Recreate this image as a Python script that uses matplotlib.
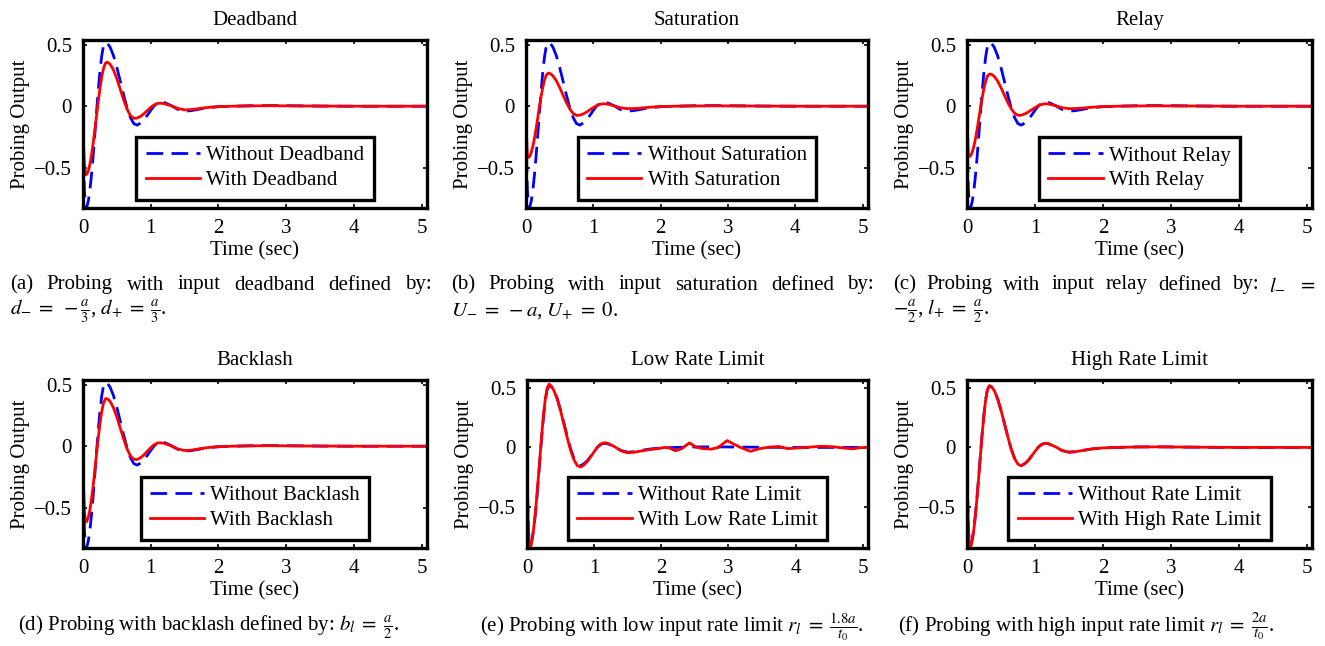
import matplotlib
matplotlib.use("Agg")
import matplotlib.pyplot as plt

plt.rcParams['font.family'] = ['Liberation Serif', 'DejaVu Serif']
plt.rcParams['mathtext.fontset'] = 'stix'

W, H = 1325, 646

# common time grid (sec)
t = [0, 0.02, 0.04, 0.06, 0.08, 0.1, 0.125, 0.15, 0.175, 0.2, 0.225, 0.25, 0.275, 0.3,
     0.33, 0.36, 0.4, 0.45, 0.5, 0.55, 0.6, 0.65, 0.7, 0.75, 0.8, 0.85, 0.9, 0.95, 1.0,
     1.05, 1.1, 1.15, 1.2, 1.3, 1.4, 1.5, 1.6, 1.7, 1.8, 1.9, 2.0, 2.2, 2.5, 2.8, 3.2,
     3.6, 4.0, 4.5, 5.08]

# probing output without any input nonlinearity (blue dashed)
without = [-0.2, -0.68, -0.84, -0.814, -0.768, -0.692, -0.563, -0.405, -0.228, -0.046,
           0.128, 0.282, 0.404, 0.486, 0.52, 0.513, 0.482, 0.413, 0.316, 0.205, 0.092,
           -0.012, -0.092, -0.142, -0.154, -0.137, -0.111, -0.074, -0.034, 0.002, 0.026,
           0.035, 0.031, 0.006, -0.026, -0.04, -0.036, -0.026, -0.016, -0.009, -0.004,
           0.0, 0.004, 0.005, 0.003, 0.001, 0.0, 0.0, 0.0]

deadband = [-0.18, -0.48, -0.56, -0.551, -0.523, -0.478, -0.4, -0.302, -0.192, -0.077,
            0.038, 0.143, 0.234, 0.302, 0.351, 0.359, 0.343, 0.296, 0.224, 0.139, 0.052,
            -0.023, -0.076, -0.099, -0.096, -0.083, -0.061, -0.035, -0.009, 0.011, 0.023,
            0.025, 0.021, 0.004, -0.018, -0.03, -0.027, -0.02, -0.013, -0.007, -0.003,
            0.0, 0.003, 0.004, 0.002, 0.001, 0.0, 0.0, 0.0]

saturation = [-0.13, -0.4, -0.418, -0.403, -0.374, -0.331, -0.263, -0.182, -0.093, -0.003,
              0.082, 0.156, 0.214, 0.253, 0.27, 0.266, 0.248, 0.208, 0.153, 0.091, 0.03,
              -0.022, -0.059, -0.075, -0.073, -0.063, -0.048, -0.029, -0.011, 0.005, 0.016,
              0.02, 0.018, 0.005, -0.012, -0.02, -0.019, -0.015, -0.01, -0.006, -0.003,
              0.0, 0.002, 0.003, 0.002, 0.001, 0.0, 0.0, 0.0]

relay = [-0.13, -0.39, -0.41, -0.398, -0.37, -0.33, -0.265, -0.186, -0.098, -0.009,
         0.075, 0.148, 0.205, 0.245, 0.262, 0.26, 0.244, 0.206, 0.152, 0.091, 0.031,
         -0.02, -0.057, -0.074, -0.073, -0.063, -0.048, -0.03, -0.012, 0.004, 0.015,
         0.02, 0.018, 0.005, -0.012, -0.02, -0.019, -0.015, -0.01, -0.006, -0.003,
         0.0, 0.002, 0.003, 0.002, 0.001, 0.0, 0.0, 0.0]

backlash = [-0.2, -0.53, -0.62, -0.609, -0.577, -0.524, -0.433, -0.321, -0.194, -0.062,
            0.066, 0.182, 0.277, 0.347, 0.387, 0.387, 0.366, 0.313, 0.238, 0.149, 0.059,
            -0.02, -0.078, -0.107, -0.108, -0.094, -0.07, -0.041, -0.012, 0.012, 0.026,
            0.028, 0.023, 0.004, -0.022, -0.035, -0.032, -0.023, -0.014, -0.008, -0.004,
            0.0, 0.003, 0.004, 0.002, 0.001, 0.0, 0.0, 0.0]

high_rate = [-0.18, -0.7, -0.855, -0.83, -0.78, -0.7, -0.57, -0.41, -0.232, -0.05,
             0.125, 0.28, 0.404, 0.488, 0.522, 0.514, 0.482, 0.413, 0.316, 0.205, 0.092,
             -0.012, -0.092, -0.142, -0.154, -0.137, -0.111, -0.074, -0.034, 0.002, 0.026,
             0.035, 0.031, 0.006, -0.026, -0.04, -0.036, -0.026, -0.016, -0.009, -0.004,
             0.0, 0.004, 0.005, 0.003, 0.001, 0.0, 0.0, 0.0]

# low rate limit has extra wiggles late on, own time grid
t_low = [0, 0.02, 0.04, 0.06, 0.08, 0.1, 0.125, 0.15, 0.175, 0.2, 0.225, 0.25, 0.275, 0.3,
         0.33, 0.36, 0.4, 0.45, 0.5, 0.55, 0.6, 0.65, 0.7, 0.75, 0.8, 0.85, 0.9, 0.95, 1.0,
         1.05, 1.1, 1.15, 1.2, 1.3, 1.4, 1.5, 1.6, 1.7, 1.8, 1.95, 2.05, 2.12, 2.21, 2.3,
         2.42, 2.52, 2.62, 2.75, 2.85, 2.98, 3.08, 3.18, 3.33, 3.45, 3.6, 3.75, 3.88, 4.0,
         4.2, 4.38, 4.55, 4.7, 4.86, 4.95, 5.08]
low_rate = [-0.17, -0.72, -0.86, -0.83, -0.76, -0.68, -0.55, -0.39, -0.21, -0.03,
            0.145, 0.3, 0.42, 0.5, 0.535, 0.52, 0.482, 0.41, 0.31, 0.195, 0.08,
            -0.025, -0.105, -0.155, -0.165, -0.148, -0.118, -0.078, -0.036, 0.002, 0.03,
            0.04, 0.036, 0.008, -0.028, -0.045, -0.04, -0.03, -0.02, -0.01, 0.0, -0.005,
            -0.028, -0.012, 0.038, 0.002, -0.01, -0.014, 0.0, 0.058, 0.028, 0.0, -0.033,
            -0.012, 0.002, 0.008, -0.01, -0.006, 0.002, 0.01, 0.006, -0.004, -0.012,
            -0.002, 0.0]

titles = ["Deadband", "Saturation", "Relay", "Backlash", "Low Rate Limit", "High Rate Limit"]
labels_without = ["Without Deadband", "Without Saturation", "Without Relay",
                  "Without Backlash", "Without Rate Limit", "Without Rate Limit"]
labels_with = ["With Deadband", "With Saturation", "With Relay",
               "With Backlash", "With Low Rate Limit", "With High Rate Limit"]
series_t = [t, t, t, t, t_low, t]
series_with = [deadband, saturation, relay, backlash, low_rate, high_rate]
ylims = [(-0.83, 0.54), (-0.83, 0.54), (-0.83, 0.54), (-0.83, 0.54), (-0.85, 0.57), (-0.85, 0.57)]

# axes boxes in pixels: left, right, top, bottom
boxes = [(83, 427, 40, 208), (526, 868, 40, 208), (967, 1312, 40, 208),
         (83, 427, 380, 548), (527, 868, 380, 548), (967, 1312, 380, 548)]

fig = plt.figure(figsize=(W / 100, H / 100), dpi=100)

for i in range(6):
    l, r, tp, b = boxes[i]
    ax = fig.add_axes([l / W, 1 - b / H, (r - l) / W, (b - tp) / H])
    ax.plot(t, without, color='blue', lw=2.0, ls='--', dashes=(6, 3), label=labels_without[i])
    ax.plot(series_t[i], series_with[i], color='red', lw=2.0, label=labels_with[i])
    ax.set_xlim(0, 5.08)
    ax.set_ylim(*ylims[i])
    ax.set_xticks([0, 1, 2, 3, 4, 5])
    ax.set_yticks([-0.5, 0, 0.5])
    ax.set_yticklabels(['\u22120.5', '0', '0.5'])
    ax.tick_params(direction='in', top=True, right=True, length=3, width=1.2,
                   labelsize=15, pad=8)
    for s in ax.spines.values():
        s.set_linewidth(2.4)
    ax.set_title(titles[i], fontsize=15, pad=11)
    ax.set_xlabel("Time (sec)", fontsize=15, labelpad=2)
    ax.set_ylabel("Probing Output", fontsize=15, labelpad=3)
    leg = ax.legend(loc='lower center', fontsize=15, handlelength=2.6, handletextpad=0.3,
                    borderpad=0.45, labelspacing=0.25, fancybox=False, framealpha=1,
                    borderaxespad=0.4, edgecolor='black')
    leg.get_frame().set_linewidth(2.4)

renderer = fig.canvas.get_renderer()
CAP = 15


def justified(words, x0, x1, y, size=CAP):
    # spread words over x0..x1 (pixels) like a justified LaTeX caption line
    texts = [fig.text(0, 1 - y / H, w, fontsize=size, va='center', ha='left') for w in words]
    widths = [tx.get_window_extent(renderer).width for tx in texts]
    gap = (x1 - x0 - sum(widths)) / (len(words) - 1)
    x = x0
    for tx, w in zip(texts, widths):
        tx.set_x(x / W)
        x += w + gap


justified(["(a)", "Probing", "with", "input", "deadband", "defined", "by:"], 10, 432, 285)
fig.text(10 / W, 1 - 311 / H, r"$d_{-}\;=\;-\frac{a}{3}$, $d_{+}\;=\;\frac{a}{3}$.",
         fontsize=CAP, va='center')
justified(["(b)", "Probing", "with", "input", "saturation", "defined", "by:"], 451, 874, 285)
fig.text(451 / W, 1 - 311 / H, r"$U_{-}\;=\;-a$, $U_{+}\;=\;0$.", fontsize=CAP,
         va='center')
justified(["(c)", "Probing", "with", "input", "relay", "defined", "by:", r"$l_{-}$", r"$=$"],
          893, 1315, 285)
fig.text(893 / W, 1 - 311 / H, r"$-\frac{a}{2}$, $l_{+}\;=\;\frac{a}{2}$.", fontsize=CAP,
         va='center')

fig.text(18 / W, 1 - 627 / H,
         r"(d) Probing with backlash defined by: $b_l\;=\;\frac{a}{2}$.",
         fontsize=CAP, va='center')
fig.text(480 / W, 1 - 627 / H,
         r"(e) Probing with low input rate limit $r_l\;=\;\frac{1.8a}{t_0}$.",
         fontsize=CAP, va='center')
fig.text(898 / W, 1 - 627 / H,
         r"(f) Probing with high input rate limit $r_l\;=\;\frac{2a}{t_0}$.",
         fontsize=CAP, va='center')

fig.savefig("out.png", dpi=100)
